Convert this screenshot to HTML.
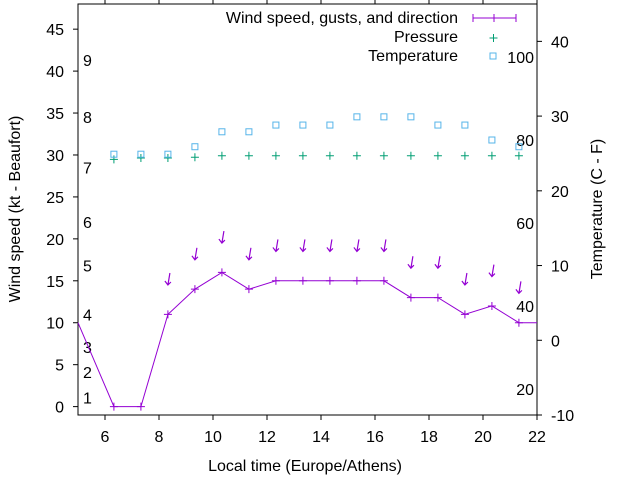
<!DOCTYPE html>
<html><head><meta charset="utf-8"><style>
body{margin:0;background:#fff}
svg{display:block;font-family:"Liberation Sans",sans-serif}
</style></head><body>
<svg id="chart" width="640" height="480" viewBox="0 0 640 480" xmlns="http://www.w3.org/2000/svg">
<g id="axes"></g>
<g id="marks"></g>
<text x="305" y="471" font-size="16" text-anchor="middle">Local time (Europe/Athens)</text>
<text transform="translate(20,209) rotate(-90)" font-size="16" text-anchor="middle">Wind speed (kt - Beaufort)</text>
<text transform="translate(602,209) rotate(-90)" font-size="16" text-anchor="middle">Temperature (C - F)</text>
<g font-size="16">
<text x="458" y="23" text-anchor="end">Wind speed, gusts, and direction</text>
<line x1="473" y1="18" x2="516" y2="18" stroke="#9400d3" stroke-width="1"/>
<line x1="473" y1="14" x2="473" y2="22" stroke="#9400d3"/><line x1="516" y1="14" x2="516" y2="22" stroke="#9400d3"/>
<line x1="494" y1="14" x2="494" y2="22" stroke="#9400d3"/>
<text x="458" y="42" text-anchor="end">Pressure</text>
<path d="M489.5 38h8M493.5 34v8" stroke="#009e73" fill="none"/>
<text x="458" y="61" text-anchor="end">Temperature</text>
<rect x="490" y="53" width="6" height="6" fill="none" stroke="#56b4e9"/>
</g>
</svg>
<script>
const times=[6.33,7.33,8.33,9.33,10.33,11.33,12.33,13.33,14.33,15.33,16.33,17.33,18.33,19.33,20.33,21.33];
const windSpeed=[0,0,11,14,16,14,15,15,15,15,15,13,13,11,12,10];
const windGust=[null,null,14.5,17.5,19.5,17.5,18.5,18.5,18.5,18.5,18.5,16.5,16.5,14.5,15.5,13.5];
const windStart=10, windEnd=10;
const pressure=[24.2,24.4,24.4,24.5,24.7,24.7,24.7,24.7,24.7,24.7,24.7,24.7,24.7,24.7,24.7,24.7];
const temperature=[24.9,24.9,24.9,25.9,27.9,27.9,28.8,28.8,28.8,29.9,29.9,29.9,28.8,28.8,26.8,25.9];
const xTicks=[6,8,10,12,14,16,18,20,22];
const yTicks=[0,5,10,15,20,25,30,35,40,45];
const y2Ticks=[-10,0,10,20,30,40];
const beaufortLabels=[["1",1.1],["2",4.1],["3",7.1],["4",11],["5",16.8],["6",22],["7",28.5],["8",34.5],["9",41.3]];
const fahrenheitLabels=[["20",2.1],["40",12.0],["60",21.9],["80",31.8],["100",41.7]];
const L=78,R=537,T=4,B=415;
const X=v=>L+(v-5)/(22-5)*(R-L);
const Y=v=>B-(v+1)/(48+1)*(B-T);
const Y2=v=>B-(v+10)/(45+10)*(B-T);
const NS="http://www.w3.org/2000/svg";
const ax=document.getElementById('axes'),mk=document.getElementById('marks');
function el(p,tag,a){const e=document.createElementNS(NS,tag);for(const k in a)e.setAttribute(k,a[k]);p.appendChild(e);return e;}
const frame=el(ax,'rect',{x:L,y:T,width:R-L,height:B-T,fill:'none',stroke:'#000'});


xTicks.forEach(v=>{const x=X(v);
 el(ax,'line',{x1:x,y1:B,x2:x,y2:B+5,stroke:'#000'});
 el(ax,'line',{x1:x,y1:T,x2:x,y2:T-4,stroke:'#000'});
 const t=el(ax,'text',{x:x,y:B+27,'font-size':16,'text-anchor':'middle'});t.textContent=v;
 
 });
yTicks.forEach(v=>{const y=Y(v);
 el(ax,'line',{x1:L-5,y1:y,x2:L,y2:y,stroke:'#000'});
 const t=el(ax,'text',{x:64,y:y+6,'font-size':16,'text-anchor':'end'});t.textContent=v;
 
 });
y2Ticks.forEach(v=>{const y=Y2(v);
 el(ax,'line',{x1:R,y1:y,x2:R+5,y2:y,stroke:'#000'});
 const t=el(ax,'text',{x:551,y:y+6,'font-size':16});t.textContent=v;
 
 });
beaufortLabels.forEach(([s,v])=>{const t=el(ax,'text',{x:83,y:Y(v)+6,'font-size':16});t.textContent=s;
 
 });
fahrenheitLabels.forEach(([s,v])=>{const t=el(ax,'text',{x:534,y:Y(v)+6,'font-size':16,'text-anchor':'end'});t.textContent=s;
 
 });
let pts=[[L,Y(windStart)]].concat(times.map((t,i)=>[X(t),Y(windSpeed[i])])).concat([[R,Y(windEnd)]]);
const line=el(mk,'polyline',{points:pts.map(p=>p.join(',')).join(' '),fill:'none',stroke:'#9400d3','stroke-width':1});


times.forEach((t,i)=>{const x=X(t),y=Y(windSpeed[i]);
 const p=el(mk,'path',{d:`M${x-4} ${y}h8M${x} ${y-4}v8`,stroke:'#9400d3',fill:'none'});
 
 
 if(windGust[i]!=null){const gy=Y(windGust[i]);
  const a=el(mk,'path',{d:`M${x+2} ${gy-12}L${x} ${gy}M${x-3} ${gy-4}L${x} ${gy}L${x+3} ${gy-3}`,stroke:'#9400d3',fill:'none','stroke-width':1.2});
  
  }
 const py=Y2(pressure[i]);
 const pp=el(mk,'path',{d:`M${x-4} ${py}h8M${x} ${py-4}v8`,stroke:'#009e73',fill:'none'});
 
 
 const ty=Y2(temperature[i]);
 const r=el(mk,'rect',{x:x-3,y:ty-3,width:6,height:6,fill:'none',stroke:'#56b4e9'});
 
 
});
</script>
</body></html>
